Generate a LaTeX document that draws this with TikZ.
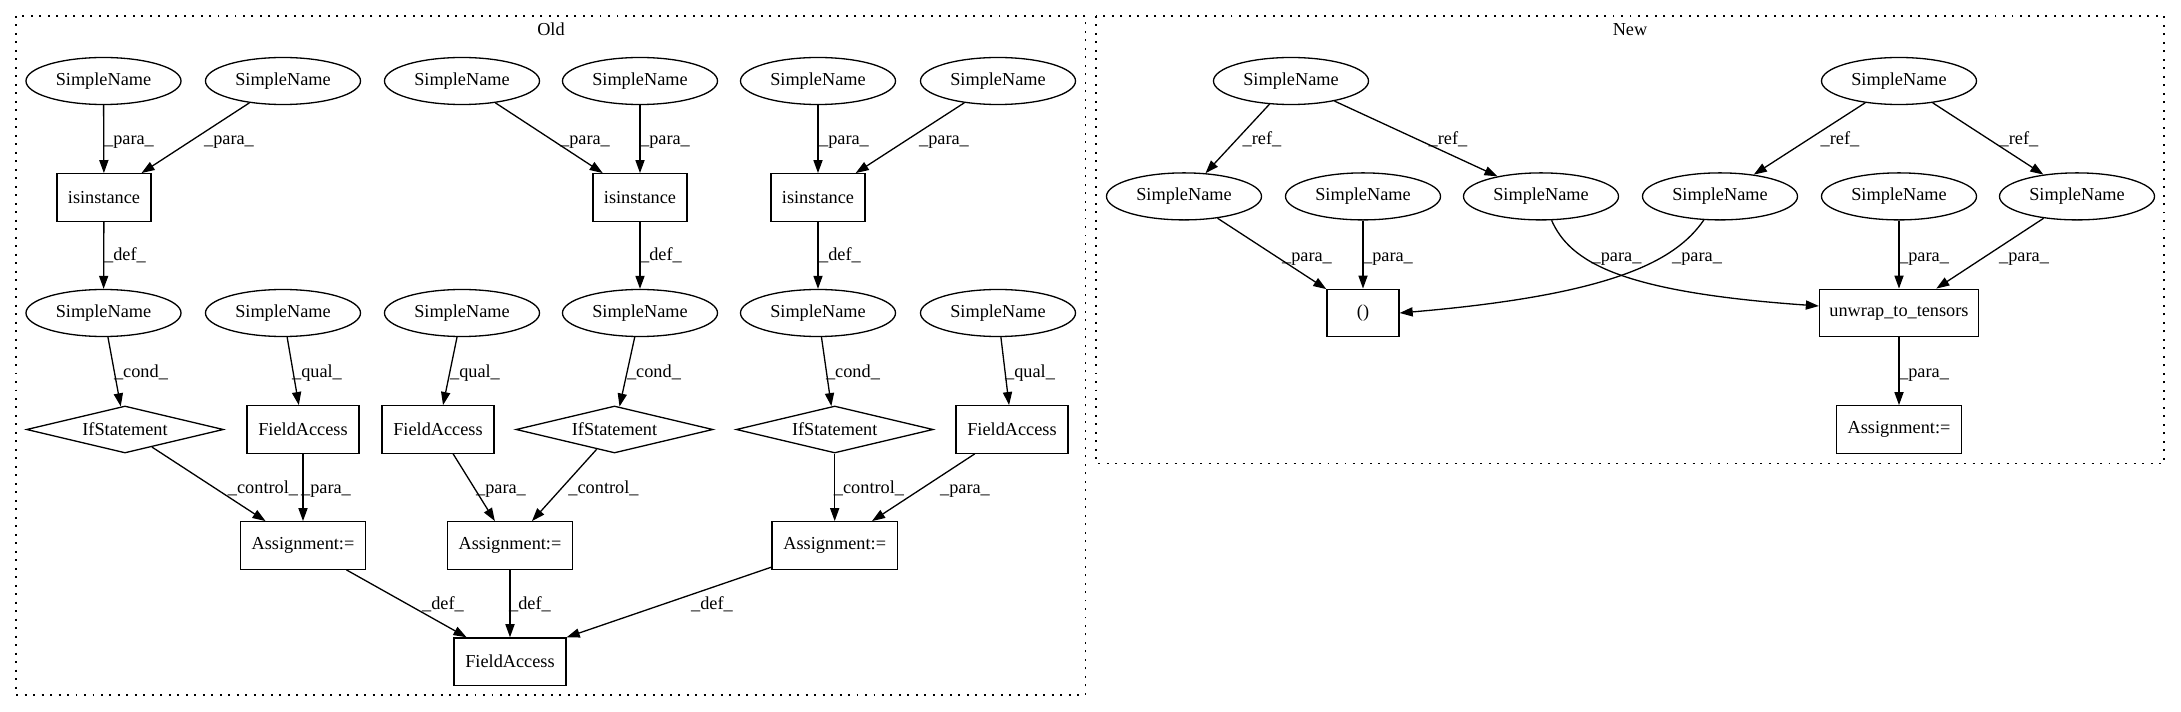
\documentclass[tikz,border=0pt]{standalone}
\usepackage{fontspec}
\setmainfont{Liberation Serif}
\usetikzlibrary{shapes.geometric,arrows.meta}
\begin{document}
\begin{tikzpicture}[x=0.7657pt,y=-0.7657pt,
  font=\fontsize{14}{16}\selectfont,
  every node/.style={inner sep=0pt},
  sn/.style={ellipse,draw,line width=1pt,minimum width=118.7pt,minimum height=36pt},
  bx/.style={rectangle,draw,line width=1pt,minimum height=36.4pt},
  dm/.style={diamond,draw,line width=1pt,shape aspect=4.2,minimum width=150.8pt,minimum height=36pt},
  edge/.style={line width=1pt,-{Triangle[length=10pt,width=7pt]}},
  lbl/.style={anchor=base},
  clus/.style={line width=1pt,dash pattern=on 1.5pt off 5pt}]
\useasboundingbox (0,0) rectangle (2181,712);
\fill[white] (0,0) rectangle (2181,712);
% clusters
\draw[clus] (16,16) rectangle (1085.6,695);
\draw[clus] (1096,16) rectangle (2164,463.6);
\node[lbl] (oldlbl) at (551,36) {Old};
\node[lbl] (newlbl) at (1630,36) {New};

% ---------- Old ----------
\node[sn] (e1) at (103.5,81) {SimpleName};
\node[sn] (e2) at (283,81) {SimpleName};
\node[sn] (e3) at (462,81) {SimpleName};
\node[sn] (e4) at (640,81) {SimpleName};
\node[sn] (e5) at (818,81) {SimpleName};
\node[sn] (e6) at (998,81) {SimpleName};
\node[bx,minimum width=72pt] (i1) at (104,197.5) {isinstance};
\node[bx,minimum width=72pt] (i2) at (640,197.5) {isinstance};
\node[bx,minimum width=72pt] (i3) at (818,197.5) {isinstance};
\node[sn] (r1) at (103.5,313) {SimpleName};
\node[sn] (r2) at (283,313) {SimpleName};
\node[sn] (r3) at (462,313) {SimpleName};
\node[sn] (r4) at (640,313) {SimpleName};
\node[sn] (r5) at (818,313) {SimpleName};
\node[sn] (r6) at (998,313) {SimpleName};
\node[dm] (if1) at (125,429.5) {IfStatement};
\node[bx,minimum width=85.8pt] (fa1) at (303,429.5) {FieldAccess};
\node[bx,minimum width=85.8pt] (fa2) at (438,429.5) {FieldAccess};
\node[dm] (if2) at (614.5,429.5) {IfStatement};
\node[dm] (if3) at (834.7,429.5) {IfStatement};
\node[bx,minimum width=85.8pt] (fa3) at (1012,429.5) {FieldAccess};
\node[bx,minimum width=96.1pt] (as1) at (303,545.5) {Assignment:=};
\node[bx,minimum width=96.1pt] (as2) at (510,545.5) {Assignment:=};
\node[bx,minimum width=96.1pt] (as3) at (834.7,545.5) {Assignment:=};
\node[bx,minimum width=85.8pt] (fab) at (510,661.7) {FieldAccess};

\draw[edge] (e1) -- (i1);
\draw[edge] (e2) -- (i1);
\draw[edge] (e3) -- (i2);
\draw[edge] (e4) -- (i2);
\draw[edge] (e5) -- (i3);
\draw[edge] (e6) -- (i3);
\draw[edge] (i1) -- (r1);
\draw[edge] (i2) -- (r4);
\draw[edge] (i3) -- (r5);
\draw[edge] (r1) -- (if1);
\draw[edge] (r2) -- (fa1);
\draw[edge] (r3) -- (fa2);
\draw[edge] (r4) -- (if2);
\draw[edge] (r5) -- (if3);
\draw[edge] (r6) -- (fa3);
\draw[edge] (if1) -- (as1);
\draw[edge] (fa1) -- (as1);
\draw[edge] (fa2) -- (as2);
\draw[edge] (if2) -- (as2);
\draw[edge] (if3) -- (as3);
\draw[edge] (fa3) -- (as3);
\draw[edge] (as1) -- (fab);
\draw[edge] (as2) -- (fab);
\draw[edge] (as3) -- (fab.north east);

\node[lbl] (l1) at (129,145) {\_para\_};
\node[lbl] (l2) at (229,145) {\_para\_};
\node[lbl] (l3) at (585,145) {\_para\_};
\node[lbl] (l4) at (665,145) {\_para\_};
\node[lbl] (l5) at (844,145) {\_para\_};
\node[lbl] (l6) at (944,145) {\_para\_};
\node[lbl] (l7) at (125,261) {\_def\_};
\node[lbl] (l8) at (661,261) {\_def\_};
\node[lbl] (l9) at (840,261) {\_def\_};
\node[lbl] (l10) at (141,377) {\_cond\_};
\node[lbl] (l11) at (317,377) {\_qual\_};
\node[lbl] (l12) at (475,377) {\_qual\_};
\node[lbl] (l13) at (654,377) {\_cond\_};
\node[lbl] (l14) at (853,377) {\_cond\_};
\node[lbl] (l15) at (1030,377) {\_qual\_};
\node[lbl] (l16) at (263,493) {\_control\_};
\node[lbl] (l17) at (326,493) {\_para\_};
\node[lbl] (l18) at (501,493) {\_para\_};
\node[lbl] (l19) at (603.5,493) {\_control\_};
\node[lbl] (l20) at (869,493) {\_control\_};
\node[lbl] (l21) at (965,493) {\_para\_};
\node[lbl] (l22) at (443,609) {\_def\_};
\node[lbl] (l23) at (530,609) {\_def\_};
\node[lbl] (l24) at (712,609) {\_def\_};

% ---------- New ----------
\node[sn] (na) at (1291,81) {SimpleName};
\node[sn] (nb) at (1899,81) {SimpleName};
\node[sn] (s1) at (1184,196.4) {SimpleName};
\node[sn] (s2) at (1363,196.4) {SimpleName};
\node[sn] (s3) at (1541,196.4) {SimpleName};
\node[sn] (s4) at (1720,196.4) {SimpleName};
\node[sn] (s5) at (1899,196.4) {SimpleName};
\node[sn] (s6) at (2077,196.4) {SimpleName};
\node[bx,minimum width=55.1pt] (paren) at (1363,313) {()};
\node[bx,minimum width=121.7pt] (unwrap) at (1899,313) {unwrap\_to\_tensors};
\node[bx,minimum width=96.1pt] (nas) at (1899,429.5) {Assignment:=};

\draw[edge] (na) -- (s1);
\draw[edge] (na) -- (s3);
\draw[edge] (nb) -- (s4);
\draw[edge] (nb) -- (s6);
\draw[edge] (s1) -- (paren);
\draw[edge] (s2) -- (paren);
\draw[edge] (s3) .. controls (1570,262) and (1620,292) .. (unwrap.175.7);
\draw[edge] (s4) .. controls (1675,262) and (1610,295) .. (paren.east);
\draw[edge] (s5) -- (unwrap);
\draw[edge] (s6) -- (unwrap);
\draw[edge] (unwrap) -- (nas);

\node[lbl] (m1) at (1262,145) {\_ref\_};
\node[lbl] (m2) at (1448,145) {\_ref\_};
\node[lbl] (m3) at (1840,145) {\_ref\_};
\node[lbl] (m4) at (2019,145) {\_ref\_};
\node[lbl] (m5) at (1307,261.5) {\_para\_};
\node[lbl] (m6) at (1388,261.5) {\_para\_};
\node[lbl] (m7) at (1616.5,261.5) {\_para\_};
\node[lbl] (m8) at (1697,261.5) {\_para\_};
\node[lbl] (m9) at (1924,261.5) {\_para\_};
\node[lbl] (m10) at (2024,261.5) {\_para\_};
\node[lbl] (m11) at (1924,377) {\_para\_};
\end{tikzpicture}
\end{document}
